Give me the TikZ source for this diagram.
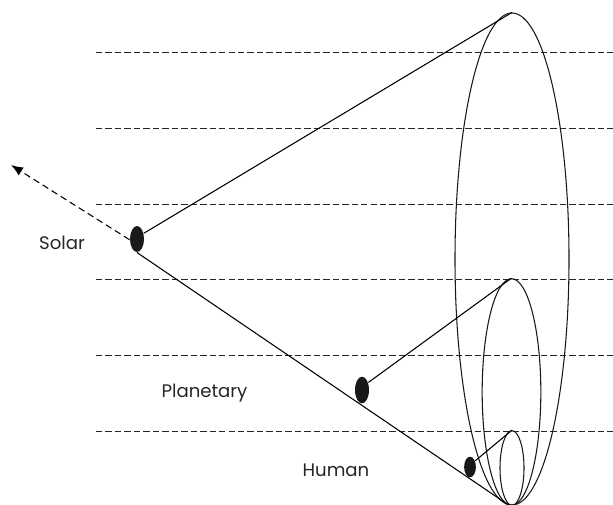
\documentclass[tikz,border=0pt]{standalone}
\usepackage{fontspec}
\setmainfont{Poppins}
\usetikzlibrary{arrows.meta,shapes.geometric}
\begin{document}
\begin{tikzpicture}[x=0.75pt,y=-0.75pt,>={Latex[length=9pt,width=7pt]},line width=0.8pt,
  level/.style={draw=black!85, dashed, dash pattern=on 4.8pt off 2.3pt, line width=0.7pt},
  orbit/.style={draw=black!90, ellipse, inner sep=0pt, minimum width=#1},
  body/.style={fill=black!90, ellipse, inner sep=0pt, minimum width=#1},
  scalelabel/.style={font=\fontsize{13.6}{16}\selectfont, text=black!85, inner sep=0pt, anchor=base}]
  \useasboundingbox (0,0) rectangle (613,504);
  % levels
  \foreach \y/\nm in {52.5/a,128/b,204/c,279/d,355/e,431/f}{
    \coordinate (l\nm) at (96,\y);
    \coordinate (r\nm) at (613,\y);
    \draw[level] (l\nm)--(r\nm);
  }
  % nested orbits
  \node[orbit=85.5pt, minimum height=369pt] (so) at (512,259) {};
  \node[orbit=44pt, minimum height=170pt] (pl) at (511.5,392) {};
  \node[orbit=18pt, minimum height=56pt] (hu) at (512,468) {};
  % bodies
  \node[body=10.5pt, minimum height=19.5pt] (sun) at (137,239) {};
  \node[body=10.5pt, minimum height=20pt] (planet) at (362,390) {};
  \node[body=8.8pt, minimum height=15.5pt] (man) at (470,467) {};
  \coordinate (tip) at (510,506);
  \coordinate (away) at (11,165);
  \draw (sun.south)--(tip);
  \draw (sun.40)--(so.north);
  \draw (planet.50)--(pl.north);
  \draw (man.50)--(hu.north);
  \draw[->,dashed,dash pattern=on 5pt off 3pt] (sun.185)--(away);
  \node[scalelabel] (solar) at (62,249) {Solar};
  \node[scalelabel] (planetary) at (204.5,397) {Planetary};
  \node[scalelabel] (human) at (336,476) {Human};
\end{tikzpicture}
\end{document}
